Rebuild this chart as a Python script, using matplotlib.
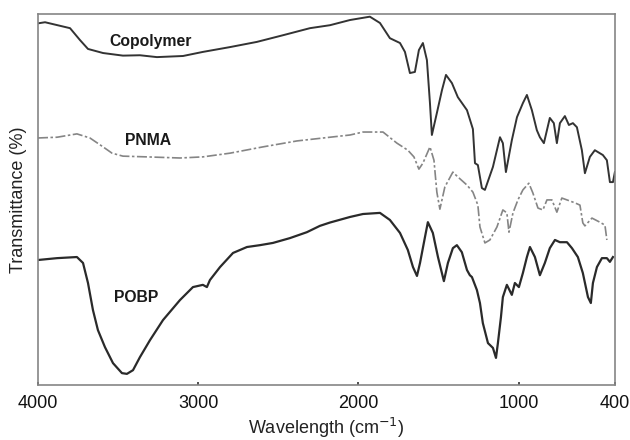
import matplotlib
matplotlib.use("Agg")
import matplotlib.pyplot as plt

plt.rcParams['font.family'] = ['Liberation Sans', 'DejaVu Sans']

# FTIR spectra, wavenumber (cm-1) vs transmittance (arbitrary %, offset)
copolymer_wn = [4000, 3956, 3800, 3738, 3688, 3594, 3470, 3364, 3258, 3095, 2971, 2802, 2634,
                2471, 2303, 2178, 2053, 1929, 1866, 1804, 1741, 1710, 1679, 1648, 1623, 1598,
                1573, 1554, 1542, 1511, 1479, 1454, 1417, 1380, 1323, 1286, 1273, 1255, 1230,
                1211, 1161, 1117, 1099, 1080, 1043, 1011, 974, 949, 918, 887, 868, 843, 806,
                781, 762, 743, 712, 687, 662, 637, 606, 587, 556, 525, 475, 450, 431, 412, 400]
copolymer_t = [97.5, 97.8, 96.2, 93.0, 90.6, 89.5, 88.8, 88.9, 88.4, 88.7, 89.8, 91.1, 92.5,
               94.3, 96.2, 97.0, 98.4, 99.3, 97.6, 93.5, 92.2, 89.8, 84.1, 84.4, 90.3, 92.2,
               87.6, 76.0, 67.4, 73.3, 79.5, 83.6, 81.4, 77.6, 74.1, 69.0, 59.8, 59.3, 53.1,
               52.6, 58.8, 66.8, 65.2, 57.4, 66.0, 72.2, 76.0, 78.2, 74.1, 68.7, 66.8, 65.2, 72.0,
               70.6, 65.2, 70.6, 72.5, 70.1, 70.6, 69.5, 63.3, 57.1, 61.5, 63.3, 62.0, 60.6, 54.7, 54.7, 57.4]

pnma_wn = [4000, 3881, 3757, 3676, 3594, 3538, 3470, 3320, 3114, 2971, 2802, 2596, 2384, 2178,
           2053, 1972, 1847, 1760, 1692, 1654, 1623, 1598, 1554, 1529, 1511, 1492, 1461, 1411,
           1380, 1323, 1286, 1255, 1242, 1211, 1180, 1136, 1099, 1074, 1061, 1036, 1005, 974,
           937, 912, 880, 849, 824, 793, 762, 731, 699, 649, 618, 600, 587, 543, 494, 462, 450]
pnma_t = [66.6, 66.8, 67.7, 66.6, 64.2, 62.5, 61.7, 61.5, 61.2, 61.5, 62.5, 64.2, 65.8, 66.8,
          67.4, 68.2, 68.2, 65.2, 63.3, 61.5, 58.2, 59.8, 64.2, 60.6, 52.0, 47.4, 53.4, 57.4,
          56.1, 53.9, 52.0, 48.5, 42.6, 38.3, 39.1, 42.6, 47.2, 46.4, 41.2, 46.4, 49.9, 52.6,
          54.4, 51.8, 47.7, 47.2, 49.9, 49.9, 46.6, 50.4, 49.9, 49.1, 48.5, 43.7, 42.9, 45.0, 43.9, 43.1, 39.1]

pobp_wn = [4000, 3881, 3757, 3719, 3688, 3657, 3626, 3582, 3532, 3476, 3445, 3407, 3364, 3301,
           3220, 3114, 3033, 2971, 2946, 2927, 2864, 2783, 2696, 2615, 2534, 2428, 2322, 2241,
           2178, 2053, 1972, 1866, 1804, 1741, 1692, 1660, 1635, 1616, 1585, 1567, 1536, 1504,
           1467, 1442, 1411, 1386, 1355, 1323, 1305, 1292, 1261, 1242, 1224, 1192, 1161, 1142,
           1130, 1111, 1099, 1074, 1043, 1024, 999, 974, 949, 930, 899, 868, 837, 806, 774, 743,
           699, 668, 631, 600, 568, 550, 537, 512, 481, 450, 431, 412]
pobp_t = [33.7, 34.2, 34.5, 32.9, 27.5, 20.2, 14.8, 10.2, 5.9, 3.2, 3.0, 4.0, 7.5, 12.1,
          17.5, 22.9, 26.4, 27.0, 26.4, 28.3, 31.8, 35.6, 37.2, 37.7, 38.3, 39.6, 41.2, 42.9,
          43.8, 45.3, 46.1, 46.4, 44.5, 41.0, 36.4, 31.8, 29.4, 32.9, 39.9, 43.9, 41.0, 34.5,
          28.0, 32.9, 36.9, 37.7, 35.8, 31.0, 29.6, 29.1, 25.6, 22.1, 16.7, 11.3, 10.0, 7.3,
          11.3, 18.3, 23.7, 27.0, 24.3, 27.5, 26.4, 30.2, 34.5, 37.2, 34.5, 29.6, 32.9, 36.9, 39.1, 38.5,
          38.5, 36.9, 34.5, 30.2, 23.7, 22.1, 27.5, 31.8, 34.2, 34.2, 33.2, 34.5]

labels = ["Copolymer", "PNMA", "POBP"]
label_pos = [(3295, 92.5), (3314, 66.0), (3389, 23.5)]

fig = plt.figure(figsize=(6.3, 4.4), dpi=100)
ax = fig.add_axes([0.0603, 0.125, 0.9157, 0.843])

ax.plot(copolymer_wn, copolymer_t, color='#333333', linewidth=1.4)
ax.plot(pnma_wn, pnma_t, color='#858585', linewidth=1.2, linestyle=(0, (6, 1.5, 1.5, 1.5)))
ax.plot(pobp_wn, pobp_t, color='#2a2a2a', linewidth=1.6)

for name, (x, y) in zip(labels, label_pos):
    ax.text(x, y, name, fontsize=11.3, fontweight='bold', ha='center', va='center', color='#1a1a1a')

ax.set_xlim(4000, 400)
ax.set_ylim(0, 100)
ax.set_xticks([4000, 3000, 2000, 1000, 400])
ax.set_xticklabels(["4000", "3000", "2000", "1000", "400"])
ax.set_yticks([])
ax.tick_params(axis='x', direction='in', length=2.5, width=1.2, color='#333333',
               labelsize=13, pad=7, labelcolor='#111111')
for s in ax.spines.values():
    s.set_color('#858585')
    s.set_linewidth(1.2)

ax.set_xlabel("Wavelength (cm$^{-1}$)", fontsize=13, color='#222222', labelpad=3)
ax.set_ylabel("Transmittance (%)", fontsize=13, color='#222222', labelpad=8)

fig.savefig("out.png", dpi=100)
